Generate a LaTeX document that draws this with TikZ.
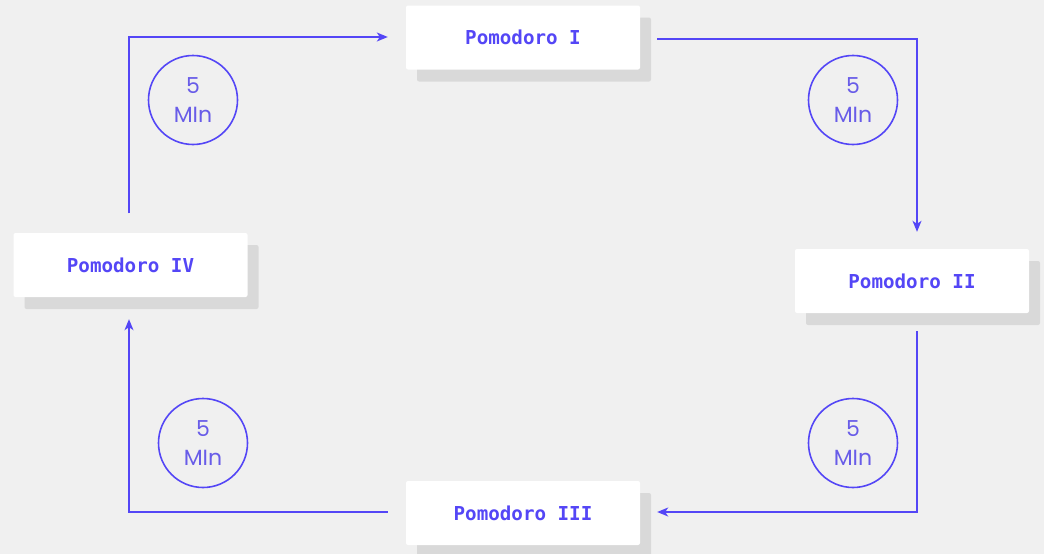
\documentclass[tikz,border=0pt]{standalone}
\usepackage{fontspec}
\newfontfamily\monofont{DejaVu Sans Mono}
\newfontfamily\pausefont{Poppins}
\usetikzlibrary{positioning,arrows.meta,shadows}

\definecolor{bg}{HTML}{F0F0F0}
\definecolor{shade}{HTML}{D9D9D9}
\definecolor{pblue}{RGB}{84,70,246}
\definecolor{ptext}{RGB}{104,92,232}

\tikzset{
  pomo/.style={fill=white, rounded corners=2pt, minimum width=234pt, minimum height=64pt,
    text=pblue, font=\monofont\bfseries\fontsize{19.2}{20}\selectfont,
    drop shadow={shadow xshift=11pt, shadow yshift=-12pt, fill=shade, opacity=1}},
  pause/.style={circle, draw=pblue, line width=1.6pt, minimum size=89pt, inner sep=0pt,
    align=center, text=ptext, font=\pausefont\fontsize{22}{29}\selectfont},
  flow/.style={draw=pblue, line width=1.3pt, -{Stealth[length=11pt,width=9pt,inset=3pt]}}
}

\begin{document}
\begin{tikzpicture}[x=1pt,y=-1pt]
\def\xl{130.5}
\def\xm{523}
\def\xr{912}

\def\yt{37.5}
\def\yl{265}
\def\yr{281}
\def\yb{513}

\fill[bg] (0,0) rectangle (1044,554);
\useasboundingbox (0,0) rectangle (1044,554);

\node[pomo] (p1) at (\xm, \yt) {Pomodoro I};
\node[pomo] (p2) at (\xr, \yr) {Pomodoro II};
\node[pomo] (p3) at (\xm, \yb) {Pomodoro III};
\node[pomo] (p4) at (\xl, \yl) {Pomodoro IV};

\node[pause] (d1) at (193, 100) {5\\MIn};
\node[pause] (d2) at (853, 100) {5\\MIn};
\node[pause] (d3) at (853, 443) {5\\MIn};
\node[pause] (d4) at (203, 443) {5\\MIn};

\draw[flow, shorten <=20pt, shorten >=18pt] ([xshift=-1.5pt, yshift=-0.5pt]p4.north) |- ([yshift=0.5pt]p1.west);
\draw[flow, shorten <=17pt, shorten >=17pt] ([yshift=-1.5pt]p1.east) -| ([xshift=5pt]p2.north);
\draw[flow, shorten <=18pt, shorten >=17pt] ([xshift=5pt]p2.south) |- ([yshift=1pt]p3.east);
\draw[flow, shorten <=18pt, shorten >=22pt] ([yshift=1pt]p3.west) -| ([xshift=-1.5pt]p4.south);

\end{tikzpicture}
\end{document}
